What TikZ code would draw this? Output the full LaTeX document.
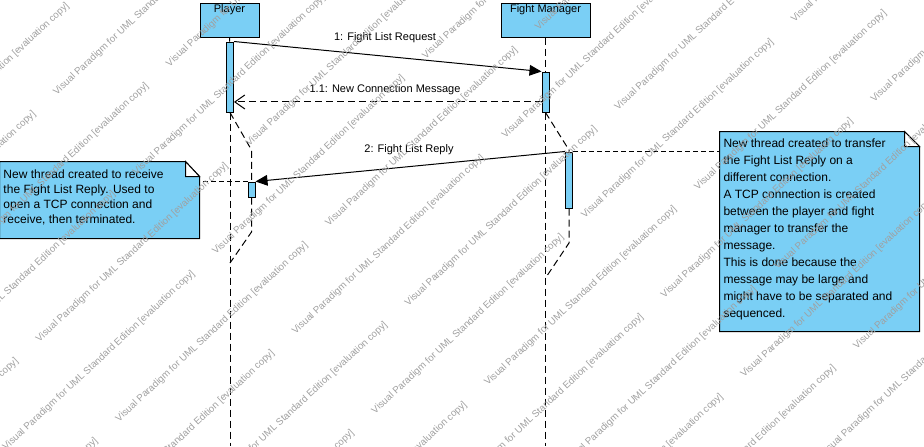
\documentclass[tikz,border=0pt]{standalone}
\usepackage{fontspec}
\setmainfont{Liberation Sans}
\usepackage{xcolor}
\usepackage{tikz}
\usetikzlibrary{positioning, arrows.meta}

\definecolor{vpblue}{RGB}{122,207,245}
\definecolor{wmgray}{RGB}{160,160,160}

\begin{document}
\begin{tikzpicture}[x=0.75pt, y=-0.75pt, line width=0.75pt,
    head/.style={draw, rectangle, fill=vpblue, minimum height=25.5pt, inner sep=0pt},
    bar/.style={draw, rectangle, fill=vpblue, minimum width=5.25pt, inner sep=0pt},
    lifeline/.style={dash pattern=on 5.25pt off 3pt},
    call/.style={-{Triangle[length=9pt, width=8pt]}},
    reply/.style={dash pattern=on 5.25pt off 3pt, -{Straight Barb[length=7.5pt, width=10.5pt]}},
    noteline/.style={dash pattern=on 3.75pt off 2.25pt},
    msglabel/.style={font=\fontsize{8.25}{10}\selectfont, inner sep=0pt},
    notebox/.style={rectangle, inner sep=0pt},
    notetext/.style={anchor=north west, align=left, inner sep=0pt, font=\fontsize{9}{#1}\selectfont},
    watermark/.style={text=wmgray, font=\fontsize{7.3}{8}\selectfont, rotate=43, anchor=base west, inner sep=0pt}]
    \useasboundingbox (0,0) rectangle (924,446);
    \clip (0,0) rectangle (924,446);

    % Nodes
    \node[head, minimum width=44.25pt, label={[anchor=north, inner sep=1.5pt, msglabel, yshift=-1.5pt]north:Player}] (player) at (229.5,20) {};
    \node[head, minimum width=66.75pt, label={[anchor=north, inner sep=1.5pt, msglabel, yshift=-1.5pt]north:Fight Manager}] (fm) at (545.5,20) {};

    \node[bar, minimum height=52.5pt] (plact) at (230,77) {};
    \node[bar, minimum height=30pt] (fmact) at (545.5,92) {};
    \node[bar, minimum height=11.25pt] (plthread) at (251.5,189.5) {};
    \node[bar, minimum height=42pt] (fmthread) at (569,180) {};

    \coordinate (plend) at (230,446);
    \coordinate (fmend) at (545.5,446);
    \coordinate (plfork) at (251.5,150);
    \coordinate (pljoin) at (251.5,232);
    \coordinate (plback) at (230,263);
    \coordinate (fmfork) at (569,150);
    \coordinate (fmjoin) at (569,243);
    \coordinate (fmback) at (545.5,278);

    \node[notebox, minimum width=149.25pt, minimum height=57pt] (leftnote) at (99.5,200) {};
    \node[notebox, minimum width=149.25pt, minimum height=149.25pt] (rightnote) at (819.5,231.5) {};

    % Lifelines
    \draw[lifeline] (player) -- (plact);
    \draw[lifeline] (plact.south) -- (plend);
    \draw[lifeline] (plact.south) -- (plfork) -- (plthread.north);
    \draw[lifeline] (plthread.south) -- (pljoin) -- (plback);
    \draw[lifeline] (fm) -- (fmact);
    \draw[lifeline] (fmact.south) -- (fmend);
    \draw[lifeline] (fmact.south) -- (fmfork) -- (fmthread.north);
    \draw[lifeline] (fmthread.south) -- (fmjoin) -- (fmback);

    % Connections
    \draw[call] (plact.north east) -- (fmact.north west);
    \node[msglabel] (m1) at (385,38) {1: Fight List Request};
    \draw[reply] ([yshift=7.9pt]fmact.south west) -- ([yshift=7.9pt]plact.south east);
    \node[msglabel] (m11) at (385,90) {1.1: New Connection Message};
    \draw[call] (fmthread.north west) -- (plthread.north east);
    \node[msglabel] (m2) at (409,150) {2: Fight List Reply};

    % Notes
    \filldraw[fill=vpblue] (leftnote.north west) -- ([xshift=-10.5pt]leftnote.north east) -- ([yshift=-11.25pt]leftnote.north east) -- (leftnote.south east) -- (leftnote.south west) -- cycle;
    \filldraw[fill=white] ([xshift=-10.5pt]leftnote.north east) -- ([xshift=-10.5pt, yshift=-11.25pt]leftnote.north east) -- ([yshift=-11.25pt]leftnote.north east) -- cycle;
    \node[notetext=11.25pt] (lefttext) at (3,169) {New thread created to receive\\the Fight List Reply. Used to\\open a TCP connection and\\receive, then terminated.};
    \draw[noteline] (plthread.north west) -- (plthread.north west -| leftnote.east);

    \filldraw[fill=vpblue] (rightnote.north west) -- ([xshift=-11.25pt]rightnote.north east) -- ([yshift=-11.25pt]rightnote.north east) -- (rightnote.south east) -- (rightnote.south west) -- cycle;
    \filldraw[fill=white] ([xshift=-11.25pt]rightnote.north east) -- ([xshift=-11.25pt, yshift=-11.25pt]rightnote.north east) -- ([yshift=-11.25pt]rightnote.north east) -- cycle;
    \node[notetext=12.75pt] (righttext) at (723,138) {New thread created to transfer\\the Fight List Reply on a\\different connection.\\A TCP connection is created\\between the player and fight\\manager to transfer the\\message.\\This is done because the\\message may be large and\\might have to be separated and\\sequenced.};
    \draw[noteline] (fmthread.north east) -- (fmthread.north east -| rightnote.west);

    % Watermark (only the copies that reach the page)
    \foreach \k in {-2,...,16} {
        \foreach \m in {-3,...,3} {
            \pgfmathsetmacro{\s}{-24 + 1.9*\k + 100*mod(\k+20,2) + 287*\m}
            \pgfmathsetmacro{\t}{108.5 + 56.3*\k}
            \pgfmathsetmacro{\xa}{0.731*\s + 0.682*\t}
            \pgfmathsetmacro{\ya}{-0.682*\s + 0.731*\t}
            \xdef\seen{0}
            \foreach \f in {0,20,...,260} {
                \pgfmathtruncatemacro{\inside}{and(and(\xa+0.731*\f>=0, \xa+0.731*\f<=924), and(\ya-0.682*\f>=0, \ya-0.682*\f<=446))}
                \ifnum\inside=1 \xdef\seen{1}\fi
            }
            \ifnum\seen=1
                \node[watermark] (wm-\k-\m) at (\xa,\ya) {Visual Paradigm for UML Standard Edition [evaluation copy]};
            \fi
        }
    }
\end{tikzpicture}
\end{document}
